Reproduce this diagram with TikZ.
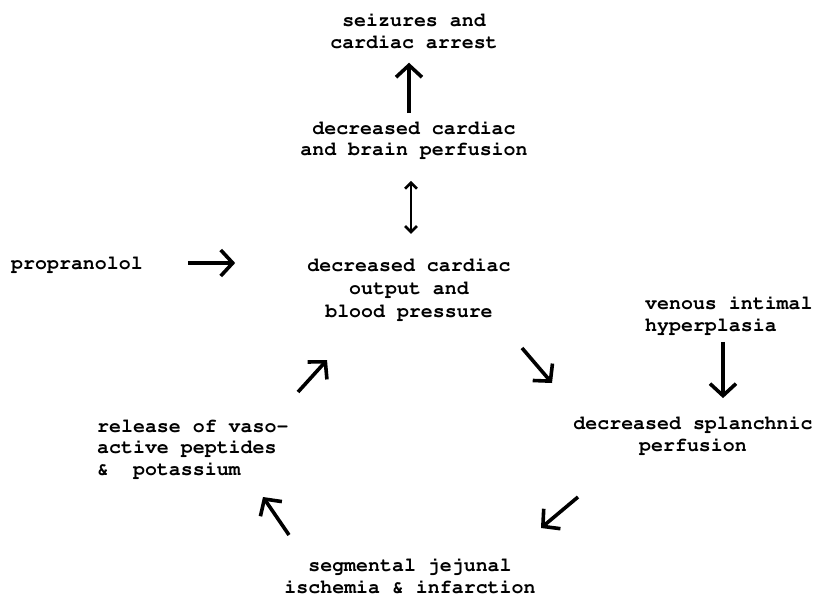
\documentclass[tikz,border=0pt]{standalone}
\usepackage[T1]{fontenc}
\usetikzlibrary{arrows.meta}

\tikzset{
  txt/.style={font=\fontencoding{T1}\fontfamily{pcr}\fontseries{b}\fontsize{20}{21.5}\selectfont, inner sep=0pt, align=center},
  arr/.style={line width=3.6bp, -{Straight Barb[length=12bp,width=26bp]}},
  darr/.style={line width=2.6bp, {Straight Barb[length=6bp,width=12bp]}-{Straight Barb[length=6bp,width=12bp]}}
}

\begin{document}
\begin{tikzpicture}[x=1bp,y=-1bp]
\useasboundingbox (0,0) rectangle (816,596);
\node[txt] (seiz) at (414,31) {seizures and\\cardiac arrest};
\node[txt] (perf) at (414,140) {decreased cardiac\\and brain perfusion};
\node[txt, font=\fontencoding{T1}\fontfamily{pcr}\fontseries{b}\fontsize{20}{23}\selectfont] (card) at (409,289) {decreased cardiac\\output and\\blood pressure};
\node[txt] (prop) at (77,265) {propranolol};
\node[txt, align=left, anchor=west] (ven) at (645,315) {venous intimal\\hyperplasia};
\node[txt] (splan) at (693,435) {decreased splanchnic\\perfusion};
\node[txt] (seg) at (410,576) {segmental jejunal\\ischemia \& infarction};
\node[txt, align=left, anchor=west] (rel) at (97,449) {release of vaso-\\active peptides\\\&~~potassium};
% loose ends of the slanted arrows
\coordinate (c1) at (522,348);
\coordinate (c2) at (552,383);
\coordinate (s1) at (578,497);
\coordinate (s2) at (541,528);
\coordinate (g1) at (289,535);
\coordinate (g2) at (263,497);
\coordinate (r1) at (298,392);
\coordinate (r2) at (327,360);
% arrows
\draw[arr, shorten <=8bp, shorten >=14bp] (perf.north -| 409,0) -- (seiz.south -| 409,0);
\draw[darr, shorten <=22bp, shorten >=24bp] (perf.south -| 411,0) -- (card.north -| 411,0);
\draw[arr, shorten <=45bp, shorten >=72bp] ([yshift=2bp]prop.east) -- ([yshift=2bp]card.west |- prop.east);
\draw[arr, shorten <=8bp, shorten >=18bp] (ven.south -| 723,0) -- (splan.north -| 723,0);
\draw[arr] (c1) -- (c2);
\draw[arr] (s1) -- (s2);
\draw[arr] (g1) -- (g2);
\draw[arr] (r1) -- (r2);
\end{tikzpicture}
\end{document}
